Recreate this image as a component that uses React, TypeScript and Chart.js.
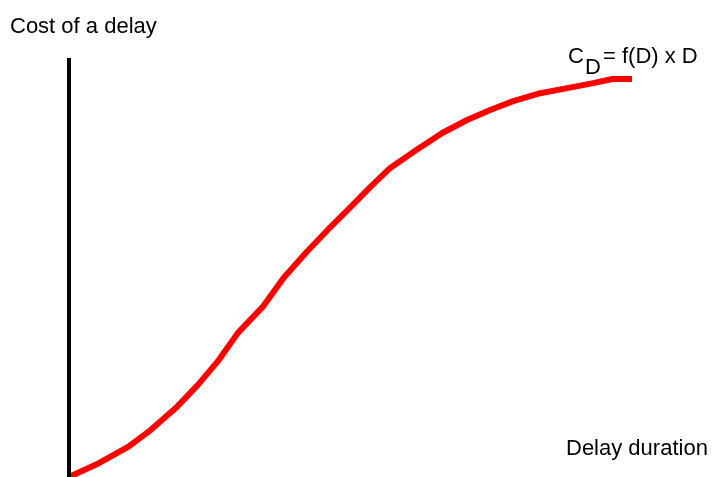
import React, { useEffect, useRef } from "react";
import { Chart, registerables } from "chart.js";

Chart.register(...registerables);

// Delay duration (arbitrary units, 0..100)
const durations = [0, 5.3, 10.5, 14.5, 19.0, 22.9, 26.6, 30.0, 34.4, 38.1, 42.2, 45.9, 50.0, 53.5, 57.0, 61.2, 63.6, 66.3, 70.7, 74.8, 78.9, 83.7, 88.5, 93.1, 96.5, 100];
// Cost of a delay (arbitrary units, 0..100)
const costs = [0, 3.3, 7.2, 11.2, 16.5, 22.0, 27.9, 34.4, 40.6, 47.5, 53.7, 58.9, 64.4, 69.2, 73.7, 77.6, 79.7, 82.1, 85.2, 87.6, 89.7, 91.6, 92.8, 94.0, 95.0, 95.0];
// Vertical axis line (cost axis)
const axisX = [0, 0];
const axisY = [0, 100];

const yLabel = "Cost of a delay";
const xLabel = "Delay duration";

const font = "'Liberation Sans', Arial, Helvetica, sans-serif";

export default function App() {
  const ref = useRef<HTMLCanvasElement | null>(null);

  useEffect(() => {
    if (!ref.current) return;
    const chart = new Chart(ref.current, {
      type: "line",
      data: {
        datasets: [
          {
            data: axisX.map((x, i) => ({ x, y: axisY[i] })),
            borderColor: "#000000",
            borderWidth: 4,
            pointRadius: 0,
            tension: 0,
            clip: false as any,
          },
          {
            data: durations.map((x, i) => ({ x, y: costs[i] })),
            borderColor: "#ff0000",
            borderWidth: 6,
            pointRadius: 0,
            tension: 0,
            borderJoinStyle: "round",
            clip: false as any,
          },
        ],
      },
      options: {
        animation: false,
        responsive: false,
        maintainAspectRatio: false,
        layout: { padding: { left: 69, right: 80, top: 58, bottom: 0 } },
        plugins: { legend: { display: false }, tooltip: { enabled: false } },
        scales: {
          x: { type: "linear", min: 0, max: 100, display: false },
          y: { type: "linear", min: 0, max: 100, display: false },
        },
      },
    });
    return () => chart.destroy();
  }, []);

  const txt: React.CSSProperties = {
    position: "absolute",
    fontFamily: font,
    fontSize: 22,
    lineHeight: "22px",
    color: "#000",
    whiteSpace: "nowrap",
  };

  return (
    <div style={{ position: "fixed", left: 0, top: 0, width: 712, height: 477, background: "#fff", overflow: "hidden" }}>
      <canvas ref={ref} width={712} height={477} style={{ position: "absolute", left: 0, top: 0, width: 712, height: 477 }} />
      <div style={{ ...txt, left: 10, top: 15 }}>{yLabel}</div>
      <div style={{ ...txt, left: 566, top: 437 }}>{xLabel}</div>
      <div style={{ ...txt, left: 568, top: 45 }}>C</div>
      <div style={{ ...txt, left: 585, top: 56 }}>D</div>
      <div style={{ ...txt, left: 603, top: 45 }}>= f(D) x D</div>
    </div>
  );
}
